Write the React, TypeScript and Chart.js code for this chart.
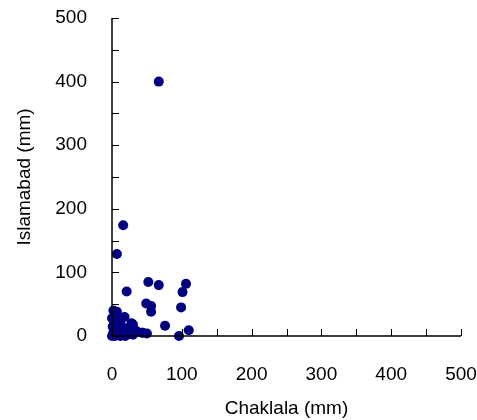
import React, { useEffect, useRef } from "react";
import { Chart, registerables } from "chart.js";

Chart.register(...registerables);

const chaklala = [
  67, 16, 7, 21, 52, 67, 106, 101, 49, 56, 56, 99, 76, 110, 96, 50, 43,
  2, 7, 0, 3, 12, 28, 22, 16, 2, 9, 19, 30, 44, 0, 4, 10, 14, 5, 25, 35, 18, 8, 3, 6, 1, 12, 30, 24,
];
const islamabad = [
  400, 174, 129, 70, 85, 80, 82, 69, 51, 47, 38, 45, 16, 9, 0, 4, 5,
  40, 38, 28, 20, 22, 20, 12, 9, 6, 2, 0, 2, 5, 0, 0, 4, 14, 12, 5, 8, 30, 25, 2, 8, 15, 0, 18, 3,
];
const tickValues = [0, 100, 200, 300, 400, 500];
const xTitle = "Chaklala (mm)";
const yTitle = "Islamabad (mm)";

const FONT = "'Liberation Sans Narrow', 'Arial Narrow', 'Liberation Sans', Arial, sans-serif";
const FS = 19;

export default function App() {
  const ref = useRef<HTMLCanvasElement>(null);
  useEffect(() => {
    if (!ref.current) return;
    const data = chaklala.map((x, i) => ({ x, y: islamabad[i] }));
    const axisPlugin = {
      id: "axisTicks",
      afterDatasetsDraw(chart: any) {
        const ctx = chart.ctx;
        const xs = chart.scales.x;
        const ys = chart.scales.y;
        const left = xs.left;
        const bottom = ys.bottom;
        ctx.save();
        ctx.strokeStyle = "#000";
        ctx.lineWidth = 1.5;
        ctx.beginPath();
        ctx.moveTo(left, ys.getPixelForValue(500));
        ctx.lineTo(left, bottom);
        ctx.lineTo(xs.getPixelForValue(500), bottom);
        ctx.stroke();
        ctx.lineWidth = 1;
        for (let v = 0; v <= 500; v += 50) {
          const yp = Math.round(ys.getPixelForValue(v)) + 0.5;
          ctx.beginPath();
          ctx.moveTo(left, yp);
          ctx.lineTo(left + 7, yp);
          ctx.stroke();
          const xp = Math.round(xs.getPixelForValue(v)) + 0.5;
          ctx.beginPath();
          ctx.moveTo(xp, bottom);
          ctx.lineTo(xp, bottom - 7);
          ctx.stroke();
        }
        ctx.restore();
      },
    };
    const chart = new Chart(ref.current, {
      type: "scatter",
      data: {
        datasets: [
          {
            data,
            backgroundColor: "#000080",
            borderWidth: 0,
            pointRadius: 5,
            clip: false,
          } as any,
        ],
      },
      options: {
        animation: false,
        responsive: false,
        layout: { padding: { top: 0, right: 0, left: 0, bottom: 0 } },
        plugins: { legend: { display: false }, tooltip: { enabled: false } },
        scales: {
          x: {
            type: "linear",
            min: 0,
            max: 500,
            afterBuildTicks: (s: any) => {
              s.ticks = tickValues.map((v) => ({ value: v }));
            },
            afterFit: (s: any) => {
              s.height = 84;
              s.paddingRight = 16;
              s.paddingLeft = 0;
            },
            grid: { display: false, drawTicks: false },
            border: { display: false },
            ticks: {
              color: "#000",
              padding: 27,
              maxRotation: 0,
              font: { family: FONT, size: FS },
            },
            title: {
              display: true,
              text: xTitle,
              color: "#000",
              font: { family: FONT, size: FS },
              padding: { top: 0, bottom: 0 },
            },
          },
          y: {
            type: "linear",
            min: 0,
            max: 500,
            afterBuildTicks: (s: any) => {
              s.ticks = tickValues.map((v) => ({ value: v }));
            },
            afterFit: (s: any) => {
              s.width = 112;
              s.paddingTop = 18;
              s.paddingBottom = 0;
            },
            grid: { display: false, drawTicks: false },
            border: { display: false },
            ticks: {
              color: "#000",
              padding: 25,
              font: { family: FONT, size: FS },
            },
            title: {
              display: true,
              text: yTitle,
              color: "#000",
              font: { family: FONT, size: FS },
              padding: { top: 13, bottom: 0 },
            },
          },
        },
      },
      plugins: [axisPlugin],
    });
    return () => chart.destroy();
  }, []);
  return (
    <div style={{ position: "fixed", left: 0, top: 0, width: 477, height: 420, background: "#fff" }}>
      <canvas ref={ref} width={477} height={420} style={{ width: 477, height: 420 }} />
    </div>
  );
}
